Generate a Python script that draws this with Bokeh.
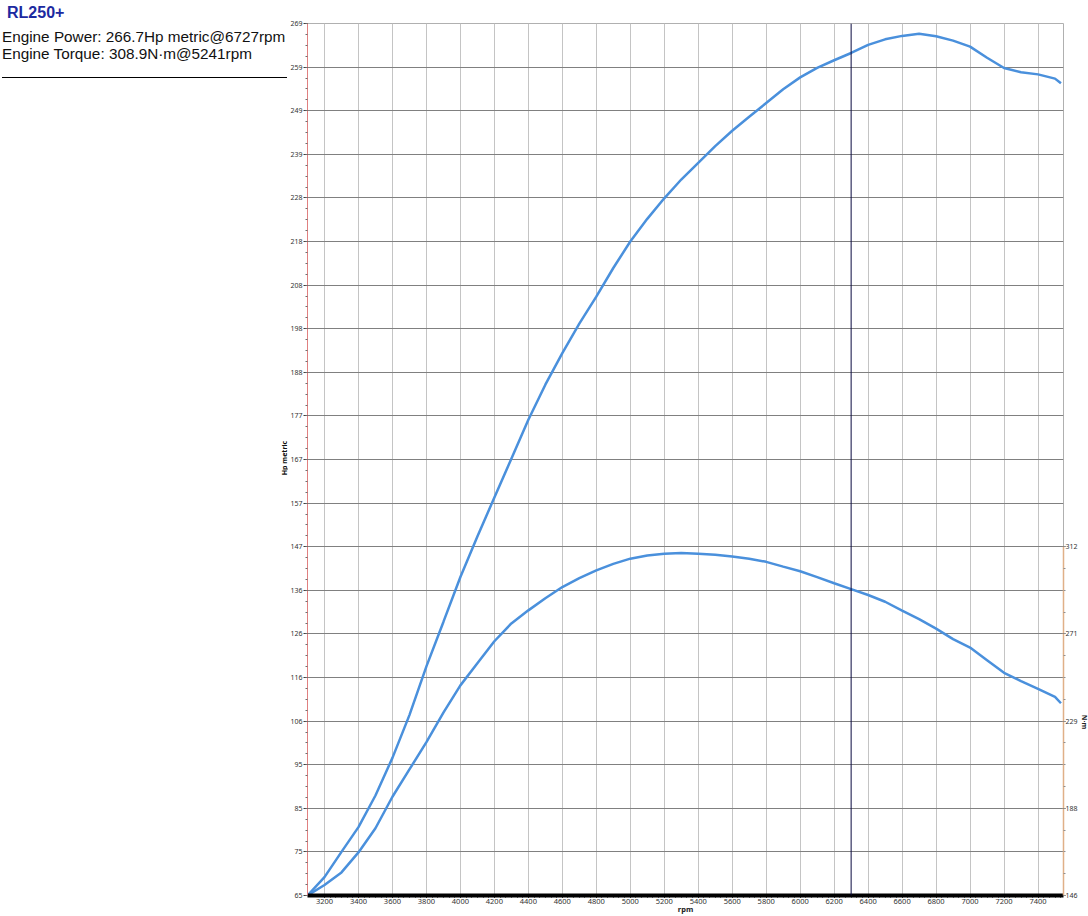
import math
from bokeh.plotting import figure
from bokeh.layouts import row
from bokeh.models import Range1d, LinearAxis, FixedTicker, Span, Div
from bokeh.embed import file_html
from bokeh.resources import INLINE

# ---------------- data ----------------
rpm = [3100, 3200, 3300, 3400, 3500, 3600, 3700, 3800, 3900, 4000,
       4100, 4200, 4300, 4400, 4500, 4600, 4700, 4800, 4900, 5000,
       5100, 5200, 5300, 5400, 5500, 5600, 5700, 5800, 5900, 6000,
       6100, 6200, 6300, 6400, 6500, 6600, 6700, 6800, 6900, 7000,
       7100, 7200, 7300, 7400, 7500, 7535]
power_hp = [65.0, 69.3, 75.2, 81.0, 88.4, 97.2, 107.2, 118.6, 129.0, 139.5,
            149.0, 158.1, 167.2, 176.3, 184.5, 191.9, 198.8, 205.1, 211.8, 218.0,
            223.3, 228.1, 232.5, 236.4, 240.3, 243.9, 247.2, 250.4, 253.6, 256.4,
            258.6, 260.4, 262.1, 264.0, 265.3, 266.1, 266.6, 266.0, 265.0, 263.6,
            261.0, 258.6, 257.6, 257.1, 256.1, 255.0]
torque_nm = [146.0, 151.0, 157.0, 166.5, 178.0, 193.0, 206.0, 219.0, 233.0, 246.0,
             256.5, 267.0, 275.5, 281.7, 287.5, 292.8, 297.0, 300.7, 303.8, 306.3,
             307.8, 308.7, 309.0, 308.6, 308.2, 307.3, 306.3, 304.8, 302.5, 300.3,
             297.5, 294.6, 291.8, 289.0, 285.8, 281.6, 277.5, 273.0, 268.0, 264.0,
             258.0, 252.0, 248.0, 244.3, 240.5, 237.5]
rpm_ticks = [3200, 3400, 3600, 3800, 4000, 4200, 4400, 4600, 4800, 5000, 5200,
             5400, 5600, 5800, 6000, 6200, 6400, 6600, 6800, 7000, 7200, 7400]
hp_tick_labels = ["65", "75", "85", "95", "106", "116", "126", "136", "147", "157", "167",
                  "177", "188", "198", "208", "218", "228", "239", "249", "259", "269"]
nm_tick_labels = ["146", "188", "229", "271", "312"]
cursor_rpm = 6300
model_name = "RL250+"
power_note = "Engine Power: 266.7Hp metric@6727rpm"
torque_note = "Engine Torque: 308.9N·m@5241rpm"
x_title = "rpm"
y_title = "Hp metric"
y2_title = "N·m"

# ---------------- ranges / ticks ----------------
X0, X1 = 3100, 7550
HP0, HP1 = 65.0, 269.0
NM0, NM_TOP = 146.0, 312.0
hp_step = (HP1 - HP0) / 20
hp_ticks = [round(HP0 + hp_step * i, 2) for i in range(21)]
hp_minor = [round(HP0 + hp_step * i / 4, 3) for i in range(81)]
nm_step = (NM_TOP - NM0) / 4
nm_ticks = [round(NM0 + nm_step * i, 2) for i in range(5)]
nm_minor = [round(NM0 + nm_step * i / 4, 3) for i in range(17)]
nm_end = NM0 + (NM_TOP - NM0) * (HP1 - HP0) / (hp_ticks[8] - HP0)
rpm_minor = [X0 + 100 + 200 * i / 6 for i in range(0, 6 * 22 + 3)]

PAGE_W, PAGE_H = 1088, 916
HEAD_W = 287
TAIL_W = 8
W, H = PAGE_W - HEAD_W - TAIL_W, PAGE_H
BL, BR, BT, BB = 17, 14, 23, 19

LABEL_FONT = "Noto Sans"
TEXT_FONT = "Liberation Sans"
BLUE = "#4a90dc"

# ---------------- header panel (left) ----------------
head_html = f"""
<div style="position:relative;width:{HEAD_W}px;height:{H}px;white-space:nowrap;
            font-family:'{TEXT_FONT}',Arial,sans-serif;overflow:visible;">
  <div style="position:absolute;left:7px;top:5px;font-size:16px;line-height:16px;
              font-weight:bold;color:#1c2aa0;">{model_name}</div>
  <div style="position:absolute;left:2px;top:29px;font-size:15.3px;line-height:15px;
              color:#111111;">{power_note}</div>
  <div style="position:absolute;left:2px;top:45.6px;font-size:15.3px;line-height:15px;
              color:#111111;">{torque_note}</div>
  <div style="position:absolute;left:2px;top:77px;width:{HEAD_W - 2}px;height:0;
              border-top:1px solid #000000;"></div>
  <div style="position:absolute;left:283.5px;top:458px;font-family:'{LABEL_FONT}';
              font-size:7px;line-height:7px;font-weight:bold;color:#111111;
              transform:translate(-50%,-50%) rotate(-90deg);">{y_title}</div>
</div>
"""
head = Div(text=head_html, width=HEAD_W, height=H, margin=0,
           styles={"overflow": "visible"})

tail_html = f"""
<div style="position:relative;width:{TAIL_W}px;height:{H}px;white-space:nowrap;overflow:visible;">
  <div style="position:absolute;left:3.5px;top:722px;font-family:'{LABEL_FONT}';
              font-size:7px;line-height:7px;font-weight:bold;color:#222222;
              transform:translate(-50%,-50%) rotate(90deg);">{y2_title}</div>
</div>
"""
tail = Div(text=tail_html, width=TAIL_W, height=H, margin=0,
           styles={"overflow": "visible"})

# ---------------- main chart ----------------
p = figure(width=W, height=H, output_backend="svg", toolbar_location=None,
           title=None, x_range=Range1d(X0, X1), y_range=Range1d(HP0, HP1),
           min_border_left=BL, min_border_right=BR, min_border_top=BT,
           min_border_bottom=BB, margin=0)
p.background_fill_color = "white"
p.border_fill_color = "white"
p.outline_line_color = "#b0b0b0"

# x axis
xa = p.xaxis[0]
xa.ticker = FixedTicker(ticks=rpm_ticks, minor_ticks=rpm_minor)
xa.axis_line_color = "black"
xa.axis_line_width = 4
xa.major_tick_line_color = "black"
xa.major_tick_in = 0
xa.major_tick_out = 2
xa.minor_tick_line_color = "black"
xa.minor_tick_in = 0
xa.minor_tick_out = 2
xa.major_label_standoff = 1
xa.major_label_text_font = LABEL_FONT
xa.major_label_text_font_size = "7.5px"
xa.major_label_text_color = "#333333"
xa.axis_label = x_title
xa.axis_label_text_font = LABEL_FONT
xa.axis_label_text_font_size = "7.5px"
xa.axis_label_text_font_style = "bold"
xa.axis_label_text_color = "#222222"
xa.axis_label_standoff = -3

# left axis
ya = p.yaxis[0]
ya.ticker = FixedTicker(ticks=hp_ticks, minor_ticks=hp_minor)
ya.major_label_overrides = {t: l for t, l in zip(hp_ticks, hp_tick_labels)}
ya.axis_line_color = "#e08080"
ya.major_tick_line_color = "#404040"
ya.major_tick_in = 0
ya.major_tick_out = 4
ya.minor_tick_line_color = "#707070"
ya.minor_tick_in = 0
ya.minor_tick_out = 2
ya.major_label_standoff = 1
ya.major_label_text_font = LABEL_FONT
ya.major_label_text_font_size = "7px"
ya.major_label_text_color = "#333333"

# grids
p.ygrid.grid_line_color = "#808080"
p.ygrid.grid_line_width = 1
p.xgrid.grid_line_color = "#c4c4c4"
p.xgrid.grid_line_width = 1

# right axis (torque)
p.extra_y_ranges = {"nm": Range1d(NM0, nm_end)}
ra = LinearAxis(y_range_name="nm", bounds=(NM0, NM_TOP),
                ticker=FixedTicker(ticks=nm_ticks, minor_ticks=nm_minor))
ra.major_label_overrides = {t: l for t, l in zip(nm_ticks, nm_tick_labels)}
ra.axis_line_color = "#e0b088"
ra.axis_line_width = 1.5
ra.major_tick_line_color = "#404040"
ra.major_tick_in = 0
ra.major_tick_out = 2
ra.minor_tick_line_color = "#909090"
ra.minor_tick_in = 0
ra.minor_tick_out = 2
ra.major_label_standoff = 0
ra.major_label_text_font = LABEL_FONT
ra.major_label_text_font_size = "7px"
ra.major_label_text_color = "#333333"
p.add_layout(ra, "right")

# curves
p.line(rpm, power_hp, line_color=BLUE, line_width=2.5)
p.line(rpm, torque_nm, line_color=BLUE, line_width=2.5, y_range_name="nm")

# cursor
p.add_layout(Span(location=cursor_rpm, dimension="height",
                  line_color="#0a0a40", line_width=1))

layout = row(head, p, tail, spacing=0, margin=0)
open("out.html", "w").write(file_html(layout, INLINE, "RL250+"))
